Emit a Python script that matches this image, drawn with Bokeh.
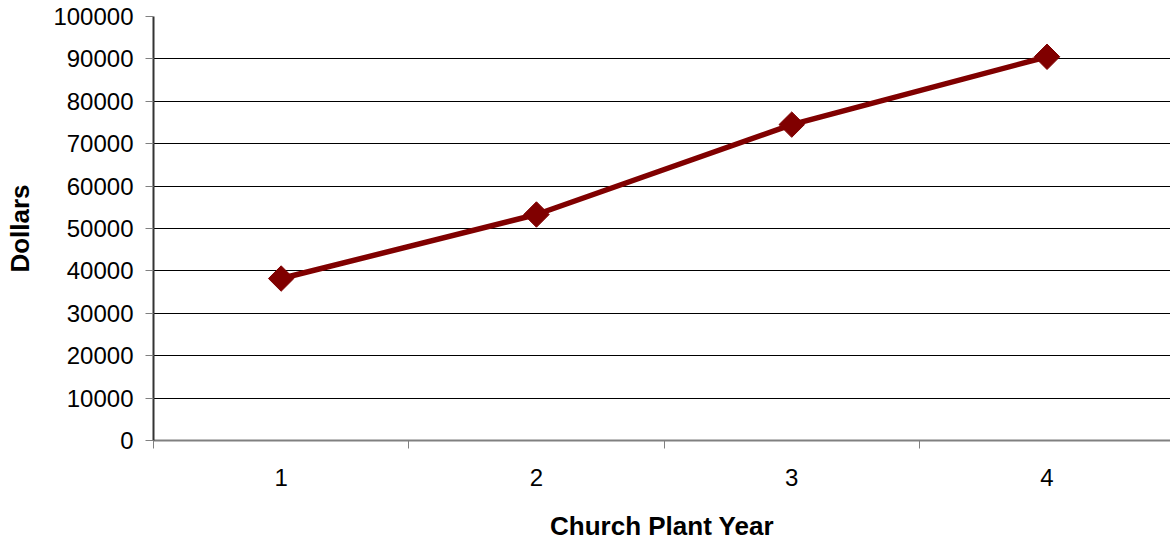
import numpy as np
from bokeh.plotting import figure
from bokeh.models import Range1d, FixedTicker, NumeralTickFormatter, ColumnDataSource
from bokeh.embed import file_html
from bokeh.resources import INLINE

years = [1, 2, 3, 4]
year_labels = ["1", "2", "3", "4"]
dollars = [38200, 53300, 74500, 90500]
y_ticks = [0, 10000, 20000, 30000, 40000, 50000, 60000, 70000, 80000, 90000, 100000]

FONT = "Liberation Sans"
LINE = "#800000"

src = ColumnDataSource(dict(x=years, y=dollars))

p = figure(width=1170, height=543, output_backend="svg", toolbar_location=None,
           x_range=Range1d(0.5, 4.4836), y_range=Range1d(0, 100000),
           min_border_left=153, min_border_right=0, min_border_top=16, min_border_bottom=100)
p.outline_line_color = None
p.background_fill_color = "white"
p.border_fill_color = "white"

p.line("x", "y", source=src, line_color=LINE, line_width=5.5)
p.scatter("x", "y", source=src, marker="square", angle=np.pi / 4, size=18,
          fill_color=LINE, line_color=LINE)

# x axis
xa = p.xaxis[0]
xa.ticker = FixedTicker(ticks=years, minor_ticks=[0.5, 1.5, 2.5, 3.5, 4.5])
xa.major_label_overrides = {y: l for y, l in zip(years, year_labels)}
xa.major_tick_line_color = None
xa.minor_tick_out = 8
xa.minor_tick_in = 0
xa.minor_tick_line_color = "#808080"
xa.minor_tick_line_width = 1
xa.axis_line_color = "#808080"
xa.axis_line_width = 2
xa.major_label_text_font = FONT
xa.major_label_text_font_size = "24px"
xa.major_label_text_color = "black"
xa.major_label_standoff = 20
xa.axis_label = "Church Plant Year"
xa.axis_label_text_font = FONT
xa.axis_label_text_font_style = "bold"
xa.axis_label_text_font_size = "26px"
xa.axis_label_text_color = "black"
xa.axis_label_standoff = 22

# y axis
ya = p.yaxis[0]
ya.ticker = FixedTicker(ticks=y_ticks)
ya.formatter = NumeralTickFormatter(format="0")
ya.minor_tick_line_color = None
ya.major_tick_out = 8
ya.major_tick_in = 0
ya.major_tick_line_color = "#808080"
ya.axis_line_color = "#333333"
ya.axis_line_width = 2
ya.major_label_text_font = FONT
ya.major_label_text_font_size = "24px"
ya.major_label_text_color = "black"
ya.major_label_standoff = 12
ya.axis_label = "Dollars"
ya.axis_label_text_font = FONT
ya.axis_label_text_font_style = "bold"
ya.axis_label_text_font_size = "26px"
ya.axis_label_text_color = "black"
ya.axis_label_standoff = 15

p.xgrid.grid_line_color = None
p.ygrid.grid_line_color = "black"
p.ygrid.grid_line_width = 1

open("out.html", "w").write(file_html(p, INLINE))
